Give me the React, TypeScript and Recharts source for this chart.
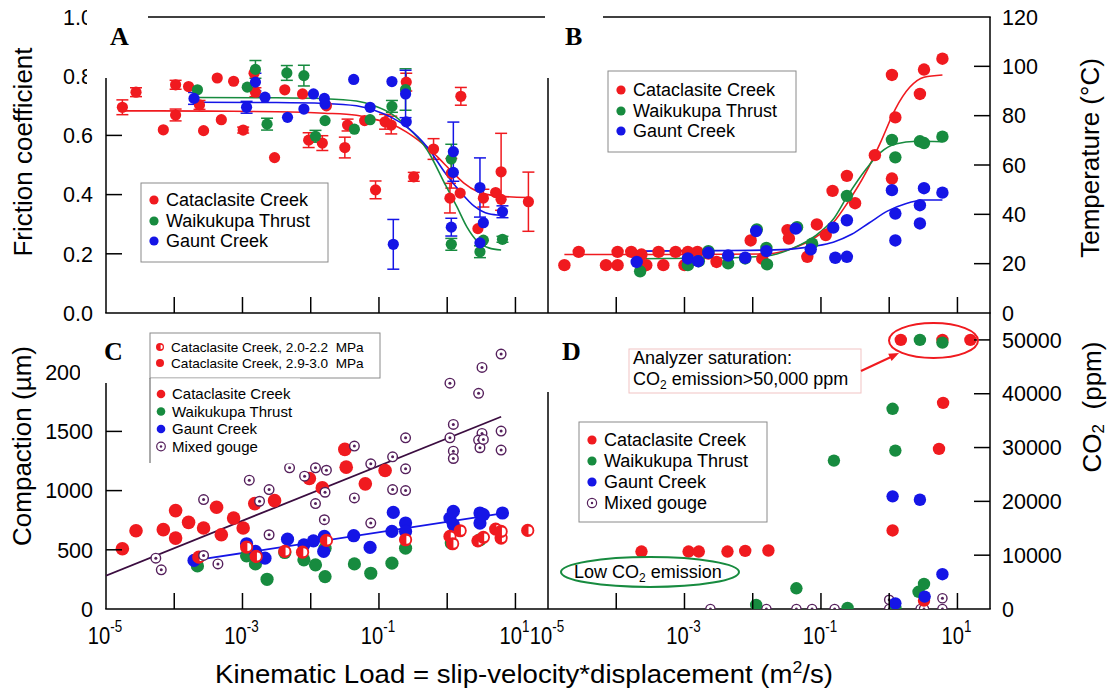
import React from 'react';
import { ComposedChart, Scatter, Line, XAxis, YAxis, ErrorBar } from 'recharts';

const FONT = '"Liberation Sans", Arial, Helvetica, sans-serif';
const SERIF = '"Liberation Serif", "Times New Roman", serif';
const RED = '#f01a1f';
const GREEN = '#178b3f';
const BLUE = '#1515e6';
const PURPLE = '#55205c';
const PLINE = '#3b0d40';

// ---------- ticks ----------
const loadTicks = [1e-5, 1e-4, 1e-3, 1e-2, 1e-1, 1, 10];
const loadLabelExponents = [-5, -3, -1, 1];
const frictionTicks = [0, 0.2, 0.4, 0.6, 0.8, 1.0];
const frictionTickMarks = [0.2, 0.4, 0.6];
const temperatureTicks = [0, 20, 40, 60, 80, 100, 120];
const temperatureTickMarks = [20, 40, 60, 80, 100];
const compactionTicks = [0, 500, 1000, 1500, 2000];
const compactionTickMarks = [500, 1000, 1500];
const co2Ticks = [0, 10000, 20000, 30000, 40000, 50000];
const co2TickMarks = [10000, 20000, 30000, 40000, 50000];

// ---------- data: [log10(kinematic load), value, error] ----------
const frictionCataclasite = [
  [-4.76, 0.695, 0.025], [-4.56, 0.746, 0.015], [-4.16, 0.619, 0], [-3.98, 0.771, 0.015],
  [-3.98, 0.669, 0.02], [-3.79, 0.765, 0], [-3.63, 0.703, 0.015], [-3.57, 0.616, 0],
  [-3.37, 0.794, 0], [-3.31, 0.653, 0], [-3.13, 0.783, 0], [-2.99, 0.618, 0.01],
  [-2.83, 0.81, 0], [-2.81, 0.746, 0.015], [-2.53, 0.525, 0], [-2.38, 0.754, 0],
  [-2.12, 0.74, 0], [-2.03, 0.584, 0.025], [-1.83, 0.574, 0.025], [-1.77, 0.7, 0],
  [-1.5, 0.559, 0.035], [-1.46, 0.635, 0.02], [-1.21, 0.65, 0], [-1.05, 0.416, 0.03],
  [-0.91, 0.646, 0.025], [-0.82, 0.635, 0.03], [-0.6, 0.78, 0.03], [-0.49, 0.46, 0.015],
  [-0.2, 0.554, 0.035], [0.04, 0.388, 0.05], [0.06, 0.472, 0.05], [0.19, 0.405, 0],
  [0.2, 0.732, 0.03], [0.45, 0.285, 0], [0.53, 0.388, 0.03], [0.71, 0.407, 0],
  [0.79, 0.477, 0.13], [0.79, 0.384, 0], [1.19, 0.376, 0.1],
];
const frictionWaikukupa = [
  [-3.66, 0.754, 0], [-2.93, 0.763, 0], [-2.81, 0.823, 0.03], [-2.64, 0.638, 0.02],
  [-2.35, 0.811, 0.025], [-2.1, 0.802, 0.035], [-1.93, 0.597, 0.02], [-1.79, 0.65, 0],
  [-1.36, 0.621, 0], [-1.13, 0.653, 0], [-0.81, 0.698, 0.02], [-0.61, 0.755, 0.07],
  [0.06, 0.52, 0.05], [0.06, 0.232, 0.02], [0.48, 0.207, 0.02], [0.53, 0.246, 0],
  [0.81, 0.249, 0.01],
];
const frictionGaunt = [
  [-3.71, 0.725, 0.02], [-2.94, 0.695, 0.02], [-2.81, 0.78, 0.03], [-2.67, 0.729, 0],
  [-2.34, 0.661, 0], [-2.1, 0.689, 0], [-1.96, 0.74, 0], [-1.8, 0.725, 0],
  [-1.79, 0.706, 0], [-1.37, 0.789, 0], [-1.13, 0.695, 0], [-0.81, 0.782, 0],
  [-0.79, 0.232, 0.084], [-0.61, 0.74, 0.08], [-0.6, 0.646, 0], [0.06, 0.29, 0.03],
  [0.09, 0.545, 0.1], [0.09, 0.475, 0], [0.48, 0.424, 0.1], [0.48, 0.237, 0],
  [0.53, 0.305, 0], [0.81, 0.342, 0.02],
];
const frictionFitCataclasite = [
  [-4.76, 0.683], [-3.5, 0.682], [-2.5, 0.68], [-1.8, 0.675], [-1.33, 0.668], [-1.07, 0.655],
  [-0.8, 0.637], [-0.6, 0.612], [-0.49, 0.595], [-0.2, 0.54], [0.06, 0.48], [0.24, 0.44],
  [0.45, 0.41], [0.76, 0.395], [1.18, 0.39],
];
const frictionFitWaikukupa = [
  [-3.66, 0.728], [-2.5, 0.727], [-1.8, 0.724], [-1.33, 0.716], [-1.07, 0.7], [-0.81, 0.672],
  [-0.6, 0.632], [-0.29, 0.55], [-0.02, 0.43], [0.14, 0.36], [0.29, 0.29], [0.45, 0.24],
  [0.61, 0.22], [0.79, 0.213],
];
const frictionFitGaunt = [
  [-3.71, 0.712], [-2.5, 0.711], [-1.8, 0.708], [-1.33, 0.7], [-1.07, 0.685], [-0.81, 0.66],
  [-0.6, 0.63], [-0.29, 0.56], [-0.02, 0.47], [0.19, 0.41], [0.4, 0.36], [0.61, 0.335],
  [0.79, 0.33],
];

const tempCataclasite = [
  [-4.76, 19.4], [-4.55, 24.8], [-4.15, 19.4], [-3.98, 19.4], [-3.98, 24.8], [-3.78, 24.8],
  [-3.63, 23.7], [-3.56, 19.4], [-3.38, 24.8], [-3.31, 19.4], [-3.13, 24.8], [-3.0, 19.4],
  [-2.95, 24.8], [-2.81, 24.8], [-2.65, 24.1], [-2.53, 20.7], [-2.03, 29.4], [-1.86, 22.0],
  [-1.49, 33.6], [-1.47, 30.2], [-1.2, 22.8], [-1.06, 35.9], [-0.93, 31.6], [-0.83, 49.5],
  [-0.62, 55.6], [-0.5, 44.5], [-0.21, 64.0], [0.04, 96.5], [0.04, 54.5], [0.09, 79.3],
  [0.45, 88.8], [0.51, 98.7], [0.78, 103.1],
];
const tempWaikukupa = [
  [-3.65, 16.9], [-2.95, 19.4], [-2.79, 21.0], [-2.65, 25.1], [-2.36, 20.1], [-2.11, 22.1],
  [-1.94, 33.9], [-1.8, 26.4], [-1.79, 19.7], [-1.35, 34.8], [-1.13, 28.1], [-0.62, 47.5],
  [0.04, 70.2], [0.09, 63.1], [0.45, 69.6], [0.51, 68.9], [0.78, 71.5],
];
const tempGaunt = [
  [-3.7, 20.7], [-2.95, 22.1], [-2.8, 21.0], [-2.65, 24.4], [-2.36, 23.3], [-2.11, 22.4],
  [-1.95, 33.2], [-1.8, 25.1], [-1.37, 34.2], [-1.15, 25.8], [-0.82, 34.6], [-0.79, 22.4],
  [-0.62, 37.6], [-0.62, 22.8], [0.04, 49.8], [0.09, 40.3], [0.09, 29.4], [0.45, 43.7],
  [0.45, 36.3], [0.51, 50.6], [0.78, 48.8],
];
const tempFitCataclasite = [
  [-4.76, 23.7], [-3.0, 23.7], [-1.83, 23.9], [-1.4, 26.4], [-1.09, 30.5], [-0.82, 36.6],
  [-0.61, 44.7], [-0.34, 57], [-0.13, 69], [0.09, 82.7], [0.3, 91.5], [0.51, 95.6], [0.78, 96.5],
];
const tempFitWaikukupa = [
  [-3.65, 22], [-2.5, 22.3], [-1.83, 23], [-1.4, 26.4], [-1.09, 31.2], [-0.82, 38],
  [-0.61, 47.5], [-0.34, 58.3], [-0.13, 65], [0.09, 68.5], [0.4, 69.6], [0.78, 69.4],
];
const tempFitGaunt = [
  [-3.7, 25.1], [-2.5, 25.3], [-1.83, 25.5], [-1.4, 26], [-1.09, 27.1], [-0.82, 28.7],
  [-0.55, 31.9], [-0.29, 36.6], [-0.02, 41.4], [0.24, 44.3], [0.51, 45.8], [0.78, 45.8],
];

const compCataclasiteHigh = [
  [-4.76, 509], [-4.56, 661], [-4.16, 670], [-3.98, 831], [-3.98, 599], [-3.79, 732],
  [-3.57, 684], [-3.38, 859], [-3.31, 627], [-3.13, 768], [-2.99, 684], [-2.82, 890],
  [-2.53, 915], [-2.02, 1102], [-1.83, 1023], [-1.5, 1348], [-1.48, 1198], [-1.2, 1057],
  [-0.91, 1170],
];
const compCataclasiteLow = [
  [-3.64, 438], [-2.94, 523], [-2.8, 444], [-2.38, 486], [-2.12, 480], [-1.77, 579],
  [-0.61, 585], [0.04, 613], [0.08, 551], [0.19, 661], [0.45, 576], [0.53, 605],
  [0.71, 675], [0.79, 599], [0.79, 655], [1.18, 664],
];
const compWaikukupa = [
  [-3.66, 364], [-2.94, 449], [-2.81, 381], [-2.64, 251], [-2.38, 477], [-2.1, 415],
  [-1.93, 373], [-1.79, 274], [-1.79, 514], [-1.36, 381], [-1.12, 302], [-0.81, 387],
  [-0.61, 514], [0.06, 557], [0.48, 585],
];
const compGaunt = [
  [-3.71, 410], [-2.94, 551], [-2.81, 486], [-2.67, 429], [-2.34, 590], [-2.1, 542],
  [-1.96, 576], [-1.8, 613], [-1.81, 486], [-1.37, 619], [-1.13, 520], [-0.81, 655],
  [-0.79, 816], [-0.61, 726], [-0.61, 655], [0.04, 768], [0.09, 825], [0.09, 712],
  [0.48, 811], [0.48, 726], [0.53, 797], [0.81, 811],
];
const compMixed = [
  [-4.27, 429], [-4.19, 331], [-3.57, 924], [-3.57, 452], [-3.36, 381], [-2.9, 1088],
  [-2.75, 910], [-2.61, 1009], [-2.61, 627], [-2.31, 1192], [-2.09, 1122], [-1.93, 1192],
  [-1.93, 890], [-1.8, 754], [-1.79, 986], [-1.77, 1172], [-1.36, 1376], [-1.36, 938],
  [-1.12, 1226], [-1.12, 726], [-0.8, 1285], [-0.8, 1009], [-0.61, 1446], [-0.61, 1184],
  [-0.61, 1000], [0.04, 1907], [0.04, 1446], [0.09, 1559], [0.09, 1333], [0.09, 1271],
  [0.46, 1822], [0.51, 2040], [0.51, 1483], [0.46, 1427], [0.48, 1362], [0.53, 1432],
  [0.79, 2153], [0.79, 1503], [0.79, 1342],
];
const compFitMixed = [[-5, 282], [0.79, 1624]];
const compFitGaunt = [[-3.71, 410], [0.81, 808]];

const co2Cataclasite = [
  [-3.63, 10680], [-2.94, 10680], [-2.79, 10680], [-2.37, 10680], [-2.11, 10800], [-1.77, 10870],
  [0.05, 14600], [0.73, 29750], [0.79, 38300], [0.17, 50000], [0.78, 50000], [1.19, 50000],
  [0.51, 1550],
];
const co2Waikukupa = [
  [-1.95, 750], [-1.36, 3850], [-0.81, 27570], [-0.61, 200], [0.05, 37200], [0.09, 29430],
  [0.09, 200], [0.45, 50000], [0.78, 49500], [0.43, 3200], [0.51, 4650],
];
const co2Gaunt = [[0.05, 20930], [0.45, 20300], [0.78, 6460], [0.09, 1050], [0.52, 2300]];
const co2Mixed = [
  [-2.62, 0], [-1.94, 0], [-1.8, 0], [-1.36, 0], [-1.13, 0], [-0.8, 0], [0.0, 1700],
  [0.0, 0], [0.46, 0], [0.51, 0], [0.78, 2000], [0.78, 0],
];

// ---------- helpers ----------
const toPts = (rows: number[][]) => rows.map((r) => ({ x: Math.pow(10, r[0]), y: r[1], e: r[2] || 0 }));

const LEFT_X = 106;
const MID_X = 548;
const RIGHT_X = 990;
const TOP_Y = 17;
const MID_Y = 313;
const BOT_Y = 609;

const dotShape = (color: string, r: number) => (p: any) => (
  <circle cx={p.cx} cy={p.cy} r={r} fill={color} />
);
const halfShape = (r: number) => (p: any) => {
  const ri = r * 0.6;
  const cx = p.cx + 0.8;
  return (
    <g>
      <circle cx={p.cx} cy={p.cy} r={r} fill={RED} />
      <path d={`M${cx},${p.cy - ri} A${ri},${ri} 0 0 1 ${cx},${p.cy + ri} Z`} fill="#fff" />
    </g>
  );
};
const ringShape = (r: number) => (p: any) => (
  <g>
    <circle cx={p.cx} cy={p.cy} r={r} fill="#fff" stroke={PURPLE} strokeWidth={1.4} />
    <circle cx={p.cx} cy={p.cy} r={1.5} fill={PURPLE} />
  </g>
);

function series(rows: number[][], color: string, shape: any, key: string) {
  const pts = toPts(rows);
  const withErr = pts.filter((p) => p.e > 0);
  const noErr = pts.filter((p) => !(p.e > 0));
  const out = [
    <Scatter key={key + '-n'} data={noErr} shape={shape} isAnimationActive={false} />,
  ];
  if (withErr.length) {
    out.push(
      <Scatter key={key + '-e'} data={withErr} shape={shape} isAnimationActive={false}>
        <ErrorBar dataKey="e" direction="y" width={6} stroke={color} strokeWidth={1.5} />
      </Scatter>
    );
  }
  return out;
}

function curve(rows: number[][], color: string, key: string, width = 1.6) {
  return (
    <Line
      key={key}
      data={toPts(rows)}
      dataKey="y"
      type="monotone"
      stroke={color}
      strokeWidth={width}
      dot={false}
      activeDot={false}
      isAnimationActive={false}
    />
  );
}

const makeXTick = (axisY: number, labels: boolean) => (props: any) => {
  const { x, payload } = props;
  const ex = Math.round(Math.log10(payload.value));
  return (
    <g>
      {ex > -5 && <line x1={x} x2={x} y1={axisY} y2={axisY - 16} stroke="#000" strokeWidth={1.5} />}
      {labels && loadLabelExponents.indexOf(ex) >= 0 && (
        <g transform={`translate(${x - 1},${axisY + 35}) scale(0.84,1)`}>
          <text x={0} y={0} textAnchor="middle" fontSize={24} fontFamily={FONT} fill="#000">
            10
            <tspan dy={-12} fontSize={16}>
              {String(ex)}
            </tspan>
          </text>
        </g>
      )}
    </g>
  );
};

const makeYTick = (left: boolean, marks: number[], fmt: (v: number) => string) => (props: any) => {
  const { y, payload } = props;
  const v = payload.value;
  const ax = left ? LEFT_X : RIGHT_X;
  return (
    <g>
      {marks.indexOf(v) >= 0 && (
        <line x1={ax} x2={left ? ax + 16 : ax - 16} y1={y} y2={y} stroke="#000" strokeWidth={1.5} />
      )}
      <text
        x={left ? 93 : 1002}
        y={y}
        dy="0.36em"
        textAnchor={left ? 'end' : 'start'}
        fontSize={21.5}
        fontFamily={FONT}
        fill="#000"
      >
        {fmt(v)}
      </text>
    </g>
  );
};

function Panel(props: {
  side: 'left' | 'right';
  row: 'top' | 'bottom';
  yDomain: number[];
  yTicks: number[];
  marks: number[];
  fmt: (v: number) => string;
  xLabels: boolean;
  children: any;
}) {
  const { side, row, yDomain, yTicks, marks, fmt, xLabels, children } = props;
  const isLeft = side === 'left';
  const top = row === 'top' ? TOP_Y : MID_Y;
  const bottom = row === 'top' ? MID_Y : BOT_Y;
  const margin = {
    top,
    bottom: 690 - bottom - 30,
    left: isLeft ? LEFT_X - 60 : MID_X,
    right: isLeft ? 1108 - MID_X : 1108 - RIGHT_X - 60,
  };
  return (
    <div style={{ position: 'absolute', left: 0, top: 0 }}>
      <ComposedChart width={1108} height={690} margin={margin}>
        <XAxis
          type="number"
          dataKey="x"
          scale="log"
          domain={[1e-5, 30]}
          allowDataOverflow
          ticks={loadTicks}
          interval={0}
          height={30}
          axisLine={false}
          tickLine={false}
          tick={makeXTick(bottom, xLabels)}
        />
        <YAxis
          type="number"
          dataKey="y"
          orientation={isLeft ? 'left' : 'right'}
          domain={yDomain}
          allowDataOverflow
          ticks={yTicks}
          interval={0}
          width={60}
          axisLine={false}
          tickLine={false}
          tick={makeYTick(isLeft, marks, fmt)}
        />
        {children}
      </ComposedChart>
    </div>
  );
}

type Item = { label: string; kind: 'dot' | 'half' | 'ring'; color: string };

function legendMarker(kind: string, color: string, cx: number, cy: number, r: number) {
  if (kind === 'half') {
    const ri = r * 0.55;
    return (
      <g>
        <circle cx={cx} cy={cy} r={r} fill={color} />
        <path d={`M${cx + 0.6},${cy - ri} A${ri},${ri} 0 0 1 ${cx + 0.6},${cy + ri} Z`} fill="#fff" />
      </g>
    );
  }
  if (kind === 'ring') {
    return (
      <g>
        <circle cx={cx} cy={cy} r={r} fill="#fff" stroke={PURPLE} strokeWidth={1.2} />
        <circle cx={cx} cy={cy} r={1.2} fill={PURPLE} />
      </g>
    );
  }
  return <circle cx={cx} cy={cy} r={r} fill={color} />;
}

function legendRows(items: Item[], mx: number, tx: number, ys: number[], fs: number, r: number) {
  return items.map((it, i) => (
    <g key={it.label}>
      {legendMarker(it.kind, it.color, mx, ys[i], r)}
      <text x={tx} y={ys[i]} dy="0.36em" fontSize={fs} fontFamily={FONT} fill="#000">
        {it.label}
      </text>
    </g>
  ));
}

const threeItems: Item[] = [
  { label: 'Cataclasite Creek', kind: 'dot', color: RED },
  { label: 'Waikukupa Thrust', kind: 'dot', color: GREEN },
  { label: 'Gaunt Creek', kind: 'dot', color: BLUE },
];
const fourItems: Item[] = [...threeItems, { label: 'Mixed gouge', kind: 'ring', color: PURPLE }];
const pressureItems: Item[] = [
  { label: 'Cataclasite Creek, 2.0-2.2\u00a0 MPa', kind: 'half', color: RED },
  { label: 'Cataclasite Creek, 2.9-3.0\u00a0 MPa', kind: 'dot', color: RED },
];

export default function App() {
  const fmt1 = (v: number) => v.toFixed(1);
  const fmt0 = (v: number) => String(v);
  const line = (x1: number, y1: number, x2: number, y2: number) => (
    <line x1={x1} y1={y1} x2={x2} y2={y2} stroke="#000" strokeWidth={1.5} />
  );
  return (
    <div style={{ position: 'absolute', left: 0, top: 0, width: 1108, height: 690, background: '#fff', overflow: 'hidden' }}>
      {/* frames */}
      <svg width={1108} height={690} style={{ position: 'absolute', left: 0, top: 0 }}>
        {line(LEFT_X, 78, LEFT_X, MID_Y)}
        {line(LEFT_X, 383, LEFT_X, BOT_Y)}
        {line(MID_X, 78, MID_X, MID_Y)}
        {line(MID_X, 392, MID_X, BOT_Y)}
        {line(RIGHT_X, TOP_Y, RIGHT_X, BOT_Y)}
        {line(LEFT_X - 0.75, MID_Y, RIGHT_X + 0.75, MID_Y)}
        {line(LEFT_X - 0.75, BOT_Y, RIGHT_X + 0.75, BOT_Y)}
        {line(148, TOP_Y, 545, TOP_Y)}
        {line(603, TOP_Y, RIGHT_X + 0.75, TOP_Y)}
      </svg>

      <Panel side="left" row="top" yDomain={[0, 1]} yTicks={frictionTicks} marks={frictionTickMarks} fmt={fmt1} xLabels={false}>
        {series(frictionCataclasite, RED, dotShape(RED, 5.6), 'fr')}
        {series(frictionWaikukupa, GREEN, dotShape(GREEN, 5.6), 'fg')}
        {series(frictionGaunt, BLUE, dotShape(BLUE, 5.6), 'fb')}
        {curve(frictionFitCataclasite, RED, 'cfr')}
        {curve(frictionFitWaikukupa, GREEN, 'cfg')}
        {curve(frictionFitGaunt, BLUE, 'cfb')}
      </Panel>

      <Panel side="right" row="top" yDomain={[0, 120]} yTicks={temperatureTicks} marks={temperatureTickMarks} fmt={fmt0} xLabels={false}>
        {series(tempCataclasite, RED, dotShape(RED, 6.2), 'tr')}
        {series(tempWaikukupa, GREEN, dotShape(GREEN, 6.2), 'tg')}
        {series(tempGaunt, BLUE, dotShape(BLUE, 6.2), 'tb')}
        {curve(tempFitCataclasite, RED, 'ctr')}
        {curve(tempFitWaikukupa, GREEN, 'ctg')}
        {curve(tempFitGaunt, BLUE, 'ctb')}
      </Panel>

      <Panel side="left" row="bottom" yDomain={[0, 2500]} yTicks={compactionTicks} marks={compactionTickMarks} fmt={fmt0} xLabels={true}>
        {series(compCataclasiteHigh, RED, dotShape(RED, 6.8), 'cr')}
        {series(compWaikukupa, GREEN, dotShape(GREEN, 6.6), 'cg')}
        {series(compGaunt, BLUE, dotShape(BLUE, 6.6), 'cb')}
        {series(compCataclasiteLow, RED, halfShape(6.6), 'crl')}
        {series(compMixed, PURPLE, ringShape(4.8), 'cm')}
        {curve(compFitMixed, PLINE, 'ccm', 1.8)}
        {curve(compFitGaunt, BLUE, 'ccb', 1.8)}
      </Panel>

      <Panel side="right" row="bottom" yDomain={[0, 55000]} yTicks={co2Ticks} marks={co2TickMarks} fmt={fmt0} xLabels={true}>
        {series(co2Mixed, PURPLE, ringShape(4.6), 'dm')}
        {series(co2Cataclasite, RED, dotShape(RED, 6.2), 'dr')}
        {series(co2Waikukupa, GREEN, dotShape(GREEN, 6.2), 'dg')}
        {series(co2Gaunt, BLUE, dotShape(BLUE, 6.2), 'db')}
      </Panel>

      {/* annotations, legends, titles */}
      <svg width={1108} height={690} style={{ position: 'absolute', left: 0, top: 0 }}>
        {/* clipped tick labels */}
        <rect x={87} y={0} width={14} height={95} fill="#fff" />
        <rect x={80} y={362} width={20} height={22} fill="#fff" />

        {/* panel letters */}
        <text x={110} y={45} fontSize={26} fontWeight="bold" fontFamily={SERIF}>A</text>
        <text x={565} y={45} fontSize={26} fontWeight="bold" fontFamily={SERIF}>B</text>
        <text x={104} y={360} fontSize={26} fontWeight="bold" fontFamily={SERIF}>C</text>
        <text x={562} y={360} fontSize={26} fontWeight="bold" fontFamily={SERIF}>D</text>

        {/* axis titles */}
        <text transform="translate(23,152) rotate(-90)" textAnchor="middle" dominantBaseline="central" fontSize={26} fontFamily={FONT}>
          Friction coefficient
        </text>
        <text transform="translate(22,446) rotate(-90)" textAnchor="middle" dominantBaseline="central" fontSize={26} fontFamily={FONT}>
          Compaction (µm)
        </text>
        <text transform="translate(1090,158) rotate(-90)" textAnchor="middle" dominantBaseline="central" fontSize={26} fontFamily={FONT}>
          Temperature (°C)
        </text>
        <text transform="translate(1092,407) rotate(-90)" textAnchor="middle" dominantBaseline="central" fontSize={26} fontFamily={FONT}>
          CO<tspan dy={6} fontSize={17}>2</tspan>
          <tspan dy={-6}>{'\u00a0 (ppm)'}</tspan>
        </text>
        <text x={524} y={683} textAnchor="middle" fontSize={25} fontFamily={FONT} textLength={618} lengthAdjust="spacingAndGlyphs">
          Kinematic Load = slip-velocity*displacement (m<tspan dy={-10} fontSize={16}>2</tspan>
          <tspan dy={10}>/s)</tspan>
        </text>

        {/* legend A */}
        <rect x={141} y={183} width={187} height={79} fill="#fff" stroke="#8a8a8a" strokeWidth={1} />
        {legendRows(threeItems, 154, 166, [200, 221, 241], 18, 4.6)}

        {/* legend B */}
        <rect x={608} y={71} width={188} height={81} fill="#fff" stroke="#8a8a8a" strokeWidth={1} />
        {legendRows(threeItems, 621, 633, [90, 111, 131], 18, 4.6)}

        {/* legends C */}
        <rect x={150} y={333} width={230} height={45} fill="#fff" stroke="#8a8a8a" strokeWidth={1} />
        {legendRows(pressureItems, 160, 171, [347, 363], 13.6, 4)}
        <rect x={150} y={378.5} width={150} height={85} fill="#fff" />
        <line x1={150} y1={378} x2={150} y2={463} stroke="#555" strokeWidth={1} />
        {legendRows(fourItems, 161, 172, [394, 411.5, 429, 446.5], 15, 4.3)}

        {/* legend D */}
        <rect x={579} y={422} width={188} height={100} fill="#fff" stroke="#8a8a8a" strokeWidth={1} />
        {legendRows(fourItems, 592, 604, [440, 461, 482, 503], 18, 4.6)}

        {/* D annotations */}
        <rect x={629} y={349} width={232} height={44} fill="#fff" stroke="#f1c3c3" strokeWidth={1} />
        <text x={633} y={358} dy="0.36em" fontSize={18} fontFamily={FONT}>Analyzer saturation:</text>
        <text x={633} y={379} dy="0.36em" fontSize={18} fontFamily={FONT}>
          CO<tspan dy={4} fontSize={12}>2</tspan>
          <tspan dy={-4}> emission&gt;50,000 ppm</tspan>
        </text>
        <ellipse cx={933.5} cy={340.5} rx={44.5} ry={17.5} fill="none" stroke={RED} strokeWidth={2} />
        <line x1={861} y1={371} x2={891} y2={357} stroke={RED} strokeWidth={2} />
        <polygon points="899,353 891.6,360.9 888.2,353.7" fill={RED} />
        <ellipse cx={650} cy={572} rx={89} ry={15} fill="none" stroke={GREEN} strokeWidth={2} />
        <text x={574} y={572} dy="0.36em" fontSize={18} fontFamily={FONT}>
          Low CO<tspan dy={4} fontSize={12}>2</tspan>
          <tspan dy={-4}> emission</tspan>
        </text>
      </svg>
    </div>
  );
}
